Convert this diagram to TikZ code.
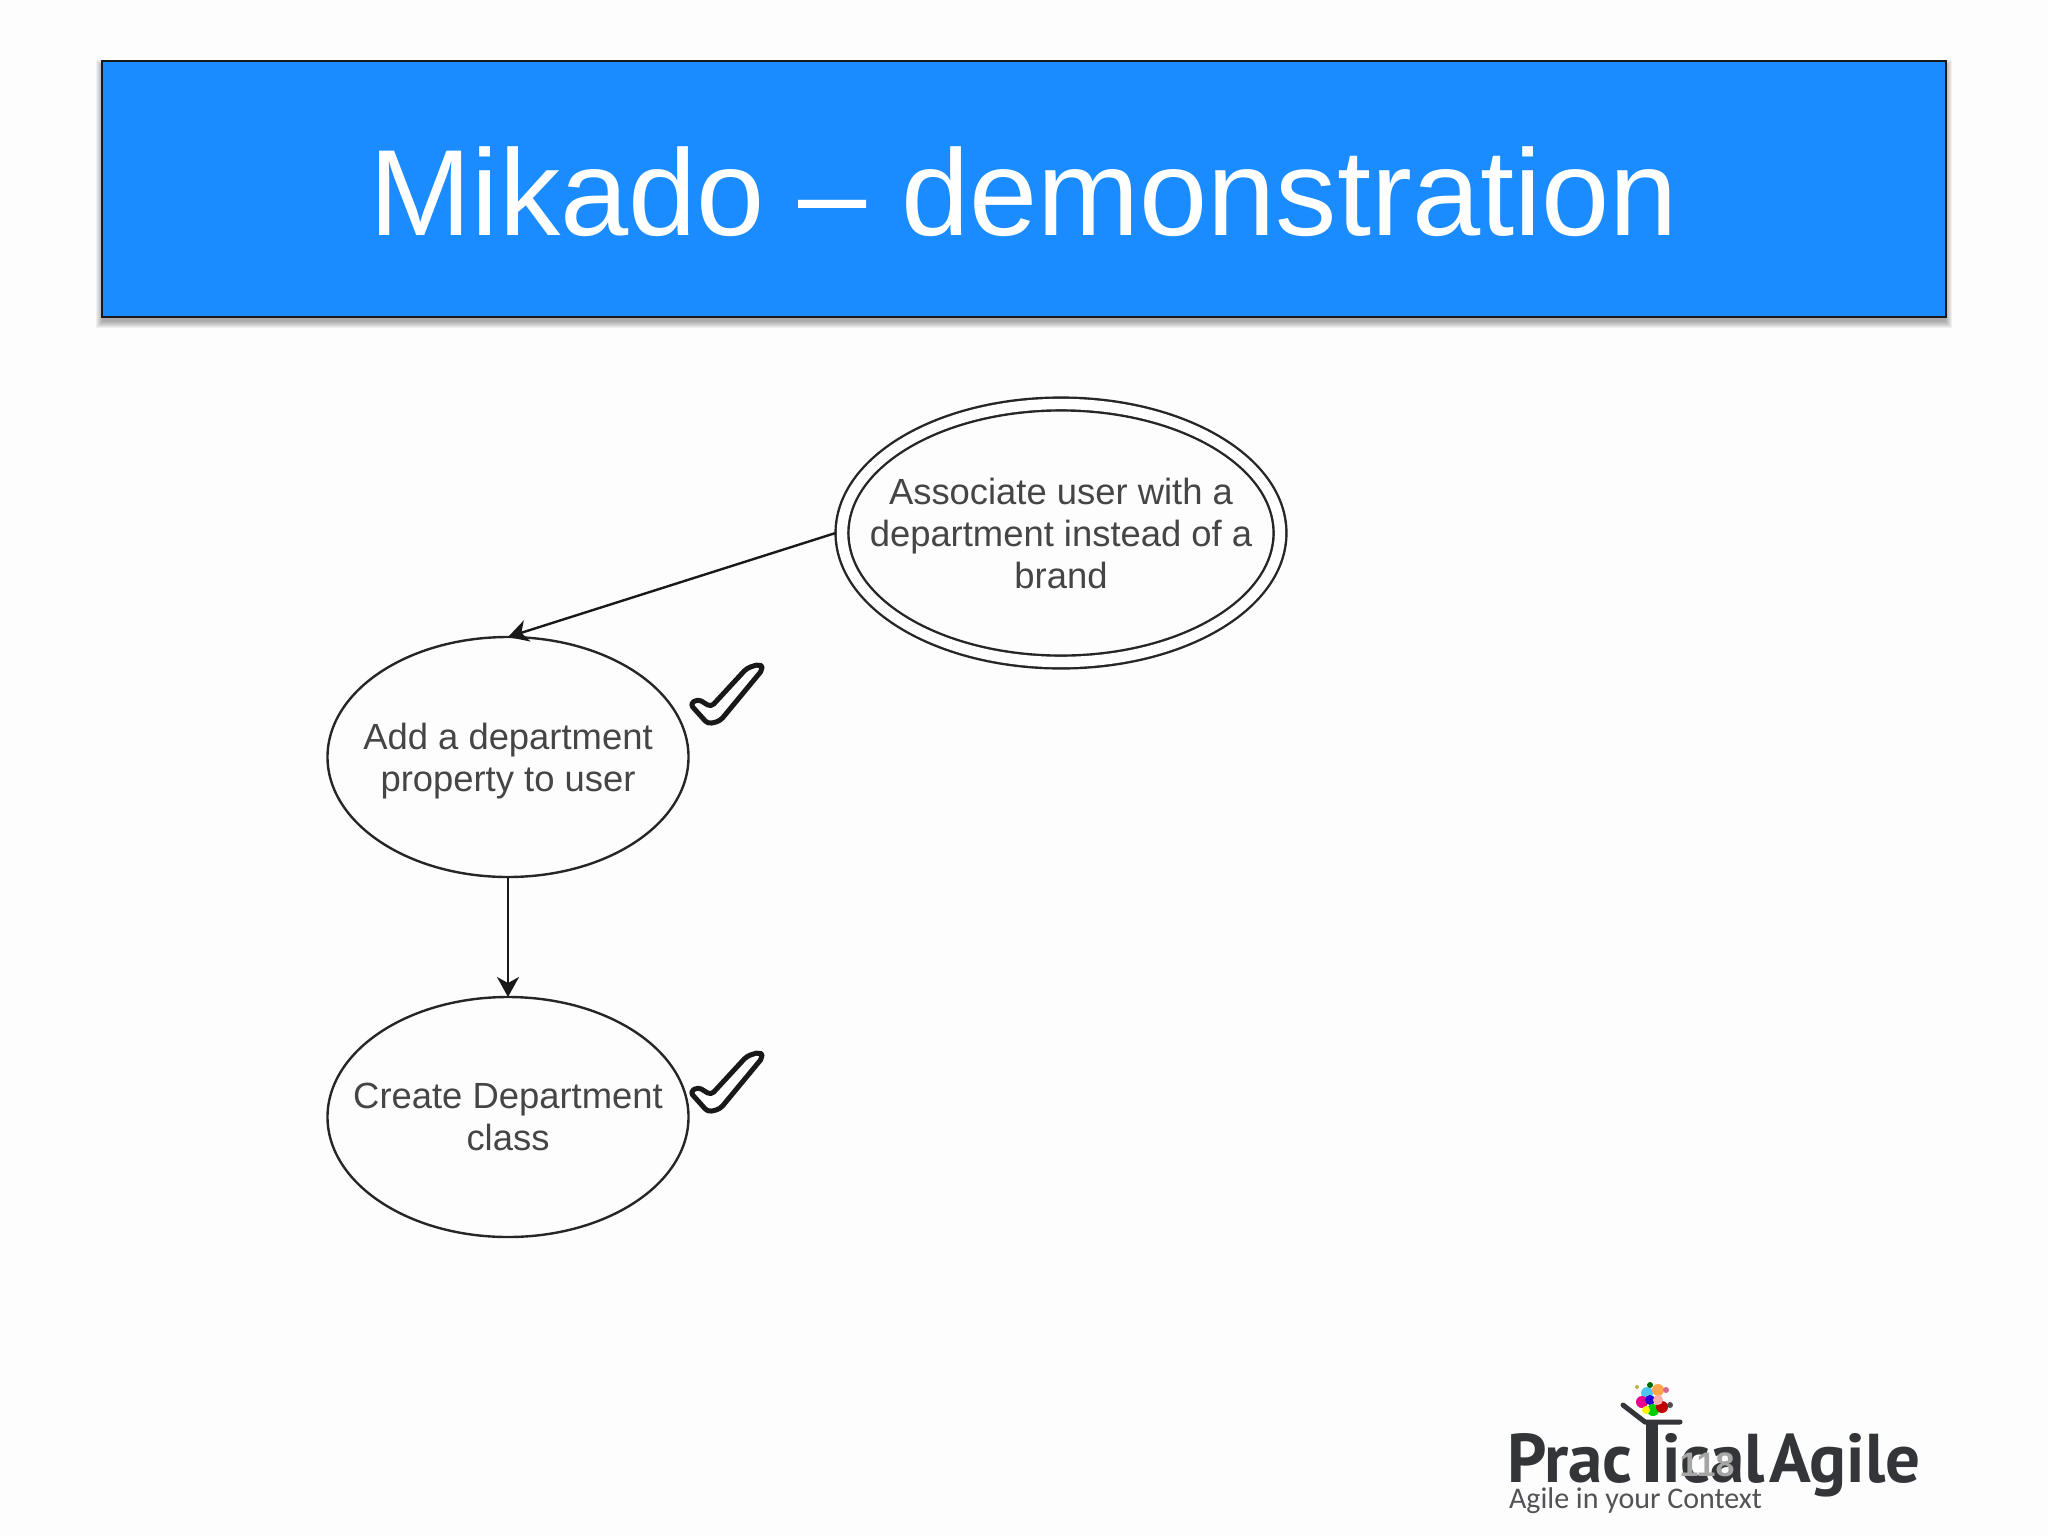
\documentclass[tikz,border=0pt]{standalone}
\usepackage{fontspec}
\setmainfont{Liberation Sans}
\newfontfamily\logofont{PT Sans}
\newfontfamily\tagfont{Carlito}
\usetikzlibrary{arrows.meta,shapes.geometric}
\definecolor{titleblue}{HTML}{1A8CFF}
\definecolor{labelgrey}{HTML}{454545}
\definecolor{logodark}{HTML}{333538}
\definecolor{paperwhite}{HTML}{FEFDFE}
\tikzset{
  goal/.style={draw=black!85, ellipse, inner xsep=-20pt, inner ysep=0pt, outer sep=0pt, line width=1.2pt,
    minimum width=180.5pt, minimum height=120pt, align=center, text=labelgrey, text depth=0pt,
    font=\fontsize{18.2}{21}\selectfont},
  rootgoal/.style={goal, double=white, double distance=5.2pt, outer sep=3.2pt,
    minimum width=219pt, minimum height=129pt},
  link/.style={draw=black!90, line width=1.2pt, -{Stealth[length=10pt,width=11pt,inset=3pt]}},
  logotext/.style={inner sep=0pt, outer sep=0pt, anchor=base west, text=logodark,
    font=\logofont\bfseries\fontsize{34.5}{35}\selectfont},
  donemark/.pic={
    \draw[line width=2.5pt, rounded corners=2pt, line join=round, black!90, fill=white]
      (-36,7) -- (-28,2) -- (-15,10) -- (21,-29) -- (34,-33) -- (37,-28)
      -- (-6,24) -- (-18,27) -- cycle;
  }
}
\begin{document}
\begin{tikzpicture}[x=0.5pt, y=-0.5pt, node distance=180pt]
        \fill[paperwhite] (0,0) rectangle (2048,1536);
        \useasboundingbox (0,0) rectangle (2048,1536);
        \foreach \spread in {6,5,...,0}
            \fill[black, opacity=.05] ({102-\spread},{66-\spread}) rectangle ({1946+\spread},{322+\spread});
        \node (title) at (1024,189) [draw=black!90, line width=1pt, fill=titleblue, inner sep=0pt, outer sep=0pt,
            minimum width=922pt, minimum height=128pt, text=white, text height=46pt, text depth=0pt,
            font=\fontsize{61.3}{61}\selectfont] {Mikado – demonstration};

        \node (associate) at (1061,533) [rootgoal] {Associate user with a\\department instead of a\\brand};
        \node (property) at (508,757) [goal] {Add a department\\property to user};
        \node (deptclass) [goal, below of=property] {Create Department\\class};
        \draw[link] (associate.west) -- (property.north);
        \draw[link] (property) -- (deptclass);

        \pic at (726,697) {donemark};
        \pic at (726,1085) {donemark};

        \foreach \dotx/\doty/\dotsize/\dotcolor in {1647/1393/6/cyan!70!white, 1658/1390/6/orange!70!white,
            1642/1402/6/magenta, 1650/1400/5/blue!70!violet, 1653/1410/6/green!80!black, 1646/1410/4/yellow,
            1662/1407/6/red!75!black, 1658/1400/5/pink!90!red, 1650/1385/3/green!40!black, 1666/1390/3/purple!60!white,
            1670/1405/3/black!70, 1637/1387/2/olive!60!white}
            \fill[\dotcolor] (\dotx,\doty) circle[radius=\dotsize];

        \node (prac) at (1507,1482) [logotext] {Prac};
        \node (ical) at (1662,1482) [logotext] {ical};
        \node (agile) at (1769,1482) [logotext] {Agile};
        \draw[logodark, line width=2.5pt, line cap=round, line join=round] (1623,1405) -- (1645,1422) -- (1680,1422);
        \draw[logodark, line width=6pt] (1652,1422) -- (1652,1482);
        \node (context) at (1509,1508) [logotext, text=logodark!85, font=\tagfont\fontsize{15}{15}\selectfont] {Agile in your Context};
        \node (pagenumber) at (1707,1465) [text=black!35, font=\bfseries\fontsize{17}{17}\selectfont] {118};
    \end{tikzpicture}
\end{document}
